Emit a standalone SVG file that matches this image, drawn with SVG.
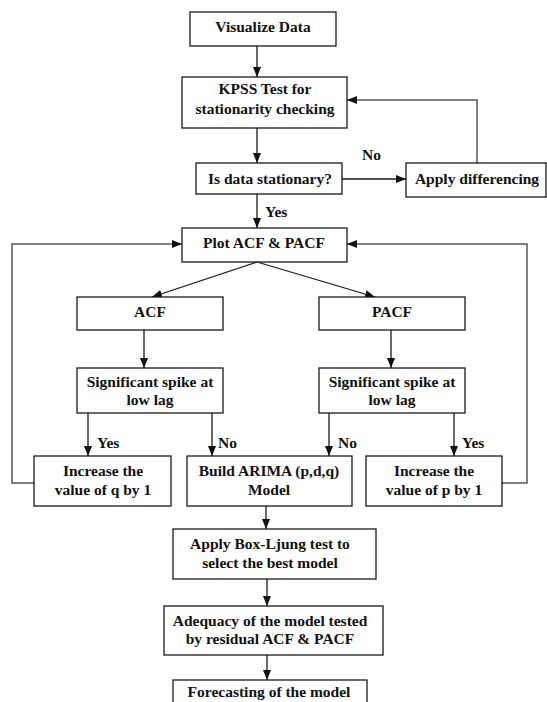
<svg xmlns="http://www.w3.org/2000/svg" width="547" height="702" viewBox="0 0 547 702">
<style>
.box{fill:#fff;stroke:#1a1a1a;stroke-width:1.3}
.t{font-family:"Liberation Serif","Times New Roman",serif;font-weight:bold;font-size:15.5px;fill:#111;text-anchor:middle}
.l{font-family:"Liberation Serif","Times New Roman",serif;font-weight:bold;font-size:15.5px;fill:#111}
.c{fill:none;stroke:#1a1a1a;stroke-width:1.3}
.fb{fill:none;stroke:#555;stroke-width:1.5}
</style>
<defs>
<marker id="ah" markerUnits="userSpaceOnUse" markerWidth="10" markerHeight="10" viewBox="0 0 10 10" refX="10" refY="5" orient="auto">
<path d="M0,1 L10,5 L0,9 Z" fill="#111"/>
</marker>
</defs>
<rect width="547" height="702" fill="#fff"/>
<g id="connectors">
<line class="c" x1="257" y1="46" x2="257" y2="77" marker-end="url(#ah)"/>
<line class="c" x1="257" y1="128" x2="257" y2="163" marker-end="url(#ah)"/>
<line class="c" x1="342" y1="179" x2="406" y2="179" marker-end="url(#ah)"/>
<polyline class="fb" points="477,163 477,100 347,100" marker-end="url(#ah)"/>
<line class="c" x1="257" y1="194" x2="257" y2="228" marker-end="url(#ah)"/>
<line class="c" x1="257" y1="262" x2="152" y2="297" marker-end="url(#ah)"/>
<line class="c" x1="257" y1="262" x2="375" y2="297" marker-end="url(#ah)"/>
<line class="c" x1="144" y1="330" x2="144" y2="368" marker-end="url(#ah)"/>
<line class="c" x1="391" y1="330" x2="391" y2="368" marker-end="url(#ah)"/>
<line class="c" x1="88" y1="413" x2="88" y2="456" marker-end="url(#ah)"/>
<line class="c" x1="212" y1="413" x2="212" y2="456" marker-end="url(#ah)"/>
<line class="c" x1="329" y1="413" x2="329" y2="456" marker-end="url(#ah)"/>
<line class="c" x1="454" y1="413" x2="454" y2="456" marker-end="url(#ah)"/>
<polyline class="fb" points="34,483 12,483 12,244 182,244" marker-end="url(#ah)"/>
<polyline class="fb" points="502,483 527,483 527,244 347,244" marker-end="url(#ah)"/>
<line class="c" x1="266" y1="506" x2="266" y2="529" marker-end="url(#ah)"/>
<line class="c" x1="267" y1="579" x2="267" y2="606" marker-end="url(#ah)"/>
<line class="c" x1="267" y1="655" x2="267" y2="680" marker-end="url(#ah)"/>
<text class="l" x="362" y="160">No</text>
<text class="l" x="265" y="217">Yes</text>
<text class="l" x="97" y="448">Yes</text>
<text class="l" x="218" y="448">No</text>
<text class="l" x="338" y="448">No</text>
<text class="l" x="462" y="448">Yes</text>
</g>
<g id="visualize">
<rect class="box" x="190" y="12" width="146" height="34"/>
<text class="t" x="263" y="32">Visualize Data</text>
</g>
<g id="kpss">
<rect class="box" x="182" y="77" width="165" height="51"/>
<text class="t" x="265" y="94">KPSS Test for</text>
<text class="t" x="265" y="114">stationarity checking</text>
</g>
<g id="stationary">
<rect class="box" x="196" y="163" width="146" height="31"/>
<text class="t" x="270" y="184">Is data stationary?</text>
</g>
<g id="differencing">
<rect class="box" x="406" y="163" width="140" height="34"/>
<text class="t" x="477" y="184">Apply differencing</text>
</g>
<g id="plot">
<rect class="box" x="182" y="228" width="165" height="34"/>
<text class="t" x="264" y="248">Plot ACF &amp; PACF</text>
</g>
<g id="acf">
<rect class="box" x="77" y="297" width="146" height="33"/>
<text class="t" x="150" y="317">ACF</text>
</g>
<g id="pacf">
<rect class="box" x="319" y="297" width="146" height="33"/>
<text class="t" x="392" y="317">PACF</text>
</g>
<g id="spike-acf">
<rect class="box" x="77" y="368" width="146" height="45"/>
<text class="t" x="150" y="387">Significant spike at</text>
<text class="t" x="150" y="405">low lag</text>
</g>
<g id="spike-pacf">
<rect class="box" x="319" y="368" width="146" height="45"/>
<text class="t" x="392" y="387">Significant spike at</text>
<text class="t" x="392" y="405">low lag</text>
</g>
<g id="increase-q">
<rect class="box" x="34" y="456" width="137" height="50"/>
<text class="t" x="103" y="476">Increase the</text>
<text class="t" x="103" y="495">value of q by 1</text>
</g>
<g id="build">
<rect class="box" x="187" y="456" width="165" height="50"/>
<text class="t" x="269" y="476">Build ARIMA (p,d,q)</text>
<text class="t" x="269" y="495">Model</text>
</g>
<g id="increase-p">
<rect class="box" x="366" y="456" width="136" height="50"/>
<text class="t" x="434" y="476">Increase the</text>
<text class="t" x="434" y="495">value of p by 1</text>
</g>
<g id="boxljung">
<rect class="box" x="173" y="529" width="203" height="50"/>
<text class="t" x="270" y="549">Apply Box-Ljung test to</text>
<text class="t" x="270" y="568">select the best model</text>
</g>
<g id="adequacy">
<rect class="box" x="164" y="606" width="219" height="49"/>
<text class="t" x="270" y="626">Adequacy of the model tested</text>
<text class="t" x="270" y="644">by residual ACF &amp; PACF</text>
</g>
<g id="forecast">
<rect class="box" x="173" y="680" width="194" height="40"/>
<text class="t" x="269" y="697">Forecasting of the model</text>
</g>
</svg>
